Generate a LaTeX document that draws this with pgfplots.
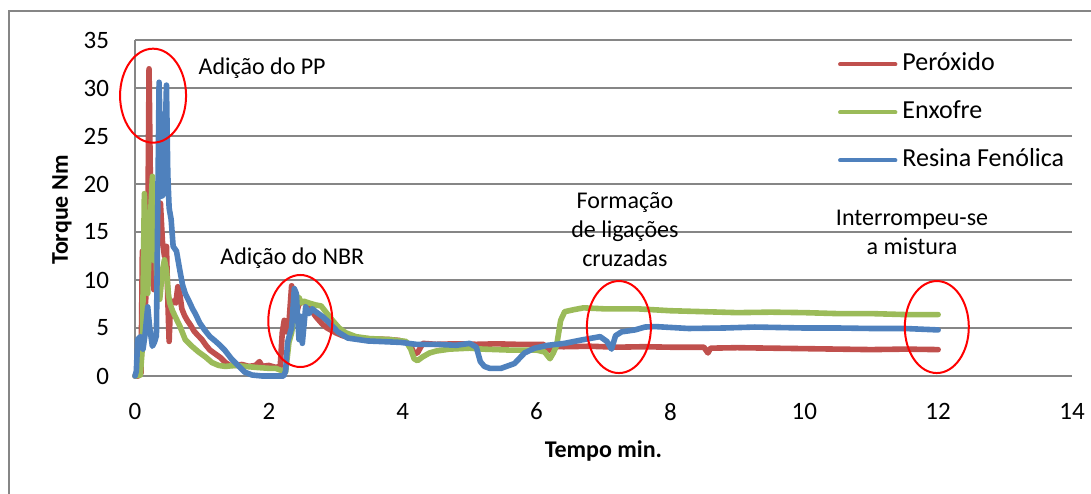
\documentclass[border=0pt]{standalone}
\usepackage{fontspec}
\setmainfont{Carlito}
\usepackage{pgfplots}
\pgfplotsset{compat=1.18}
\definecolor{cred}{HTML}{C0504D}
\definecolor{cgreen}{HTML}{9BBB59}
\definecolor{cblue}{HTML}{4F81BD}
\definecolor{cgrid}{HTML}{868686}
\begin{document}
\begin{tikzpicture}[x=1pt,y=1pt]
\path[use as bounding box] (0,0) rectangle (545.5,246.5);
\draw[cgrid, line width=0.75pt] (4.5,-2) -- (4.5,241) -- (548,241);
\begin{axis}[
 at={(67.5pt,58.5pt)}, anchor=south west,
 scale only axis, width=468.5pt, height=168pt,
 xmin=0, xmax=14, ymin=0, ymax=35,
 xtick={0,2,...,14}, ytick={0,5,...,35},
 axis x line=bottom, axis y line=left,
 axis line style={-, cgrid, line width=0.75pt},
 ymajorgrids, grid style={cgrid, line width=0.75pt},
 major tick length=0pt,
 clip=false,
 tick label style={font=\fontsize{12.5}{14}\selectfont},
 /pgf/number format/assume math mode=true,
 yticklabel style={anchor=east, xshift=-9.5pt}, xticklabel style={yshift=-10pt},
 xlabel={Tempo min.}, ylabel={Torque Nm},
 label style={font=\bfseries\fontsize{12}{14}\selectfont},
 xlabel style={at={(axis description cs:0.5,-0.223)}, anchor=center},
 ylabel style={at={(axis description cs:-0.078,0.494)}, anchor=center},
 legend style={at={(axis description cs:0.7503,0.962)}, anchor=north west,
   draw=none, fill=none, inner sep=0pt, outer sep=0pt,
   row sep=12.5pt, column sep=2.5pt,
   font=\fontsize{13}{15}\selectfont,
   nodes={inner sep=0pt, text height=9pt, text depth=2.5pt}},
 legend cell align=left,
 legend image code/.code={\draw[#1, line width=2.2pt, line cap=round] (0pt,0pt) -- (27.5pt,0pt);},
 every axis plot/.append style={line width=2.8pt, line join=round, line cap=round},
]
\addplot[cred] coordinates {
(0,0) (0.05,0) (0.09,0.3) (0.11,13) (0.13,5) (0.16,8) (0.19,14) (0.21,32) (0.23,20) (0.25,13) (0.28,9) (0.31,12) (0.35,15) (0.38,18) (0.41,14) (0.44,12.5) (0.47,13.5) (0.49,8) (0.51,3.6) (0.53,7.5) (0.57,7.8) (0.61,7.6) (0.64,9.3) (0.67,8.5) (0.70,7.0) (0.74,6.3) (0.78,5.8) (0.83,5.3) (0.88,4.7) (0.93,4.3) (1.0,3.8) (1.06,3.2) (1.12,2.7) (1.2,2.3) (1.28,1.9) (1.35,1.4) (1.42,1.1) (1.5,1.1) (1.6,1.2) (1.7,1.0) (1.8,1.1) (1.86,1.5) (1.9,1.0) (2.0,1.1) (2.1,0.9) (2.17,1.0) (2.2,4.5) (2.23,5.8) (2.26,4.6) (2.3,5.5) (2.34,9.4) (2.37,8.5) (2.41,6.5) (2.45,7.5) (2.5,7.7) (2.56,7.6) (2.62,7.0) (2.7,6.2) (2.8,5.4) (2.87,5.0) (3.0,4.5) (3.1,4.2) (3.2,4.0) (3.4,3.9) (3.6,3.85) (3.8,3.8) (3.95,3.7) (4.05,3.5) (4.12,3.1) (4.17,2.4) (4.22,2.4) (4.3,3.4) (4.5,3.3) (4.8,3.35) (5.1,3.3) (5.4,3.35) (5.7,3.3) (6.0,3.3) (6.1,3.3) (6.15,2.9) (6.19,2.7) (6.24,3.1) (6.4,3.05) (6.8,3.1) (7.2,3.0) (7.6,3.05) (8.0,3.0) (8.5,3.0) (8.56,2.4) (8.6,2.9) (9,2.95) (9.5,2.9) (10,2.85) (10.5,2.8) (11,2.75) (11.5,2.8) (12,2.75)
};
\addlegendentry{Peróxido}
\addplot[cgreen] coordinates {
(0,0) (0.08,0.1) (0.11,3) (0.14,19) (0.17,12) (0.19,8.6) (0.22,15) (0.26,20.8) (0.29,12) (0.31,14) (0.33,9) (0.37,8) (0.41,11) (0.44,12.1) (0.47,11) (0.5,8.5) (0.52,7.6) (0.56,6.8) (0.6,6.2) (0.67,5.2) (0.75,3.8) (0.85,3.1) (0.95,2.5) (1.05,2.0) (1.15,1.4) (1.25,1.1) (1.35,1.0) (1.5,1.1) (1.65,1.0) (1.8,0.9) (2.0,0.8) (2.1,0.8) (2.22,0.5) (2.25,0.4) (2.3,3.5) (2.34,4.5) (2.38,6.5) (2.42,7.8) (2.45,8.2) (2.48,7.6) (2.52,7.8) (2.6,7.6) (2.7,7.4) (2.78,7.3) (2.87,6.5) (2.95,5.8) (3.05,5.0) (3.15,4.5) (3.3,4.1) (3.5,3.9) (3.8,3.8) (4.05,3.6) (4.12,2.8) (4.17,1.8) (4.22,1.6) (4.3,2.0) (4.4,2.4) (4.5,2.6) (4.7,2.8) (5.0,2.9) (5.2,2.8) (5.6,2.7) (6.0,2.7) (6.12,2.5) (6.2,1.8) (6.25,2.4) (6.3,3.2) (6.36,5.8) (6.42,6.7) (6.55,6.9) (6.7,7.1) (7.0,7.0) (7.5,7.0) (8.0,6.8) (8.5,6.7) (9,6.6) (9.5,6.65) (10,6.6) (10.5,6.5) (11,6.5) (11.5,6.4) (12,6.4)
};
\addlegendentry{Enxofre}
\addplot[cblue] coordinates {
(0,0) (0.02,0.5) (0.04,3.8) (0.08,4.1) (0.12,2.8) (0.15,4.3) (0.19,7.2) (0.22,5.0) (0.26,3.1) (0.29,3.5) (0.32,4.2) (0.36,30.6) (0.38,24) (0.4,18.7) (0.43,19) (0.47,30.3) (0.49,21) (0.51,17.5) (0.54,16.3) (0.57,13.5) (0.62,13.0) (0.67,11.0) (0.71,9.5) (0.75,8.6) (0.8,7.9) (0.86,7.0) (0.9,6.5) (0.97,5.5) (1.04,4.8) (1.12,4.1) (1.19,3.7) (1.27,3.2) (1.34,2.7) (1.44,1.8) (1.54,1.1) (1.64,0.4) (1.75,0.1) (1.9,0) (2.1,0) (2.22,0) (2.25,0.5) (2.28,3.5) (2.31,4.3) (2.34,5.0) (2.38,9.1) (2.41,8.6) (2.45,3.8) (2.48,6.2) (2.5,3.4) (2.55,7.2) (2.6,6.5) (2.65,7.0) (2.7,6.7) (2.8,6.2) (2.88,5.7) (3.03,4.6) (3.18,3.95) (3.48,3.65) (3.97,3.5) (4.2,3.3) (4.5,3.3) (4.8,3.2) (5.0,3.4) (5.1,3.0) (5.16,1.5) (5.22,1.0) (5.3,0.8) (5.47,0.8) (5.67,1.3) (5.82,2.4) (5.97,2.9) (6.17,3.2) (6.42,3.4) (6.67,3.75) (6.95,4.1) (7.05,3.6) (7.12,2.8) (7.18,4.2) (7.27,4.6) (7.47,4.8) (7.62,5.1) (7.77,5.15) (8.27,4.95) (8.8,5.0) (9.26,5.1) (10,5.0) (10.5,5.0) (11,4.95) (11.5,4.95) (12,4.8)
};
\addlegendentry{Resina Fenólica}
\node[font=\fontsize{12}{14.5}\selectfont, align=center] at (axis cs:1.90,32.1) {Adição do PP};
\node[font=\fontsize{12}{14.5}\selectfont, align=center] at (axis cs:2.35,12.3) {Adição do NBR};
\node[font=\fontsize{12}{14.5}\selectfont, align=center] at (axis cs:7.32,15.3) {Formação\\de ligações\\cruzadas};
\node[font=\fontsize{12}{14.5}\selectfont, align=center] at (axis cs:11.61,15.0) {Interrompeu-se\\a mistura};
\draw[red, line width=1pt] (axis cs:0.27,29.2) ellipse [x radius=16.5pt, y radius=23.5pt];
\draw[red, line width=1pt] (axis cs:2.47,5.73) ellipse [x radius=16pt, y radius=23pt];
\draw[red, line width=1pt] (axis cs:7.23,5.1) ellipse [x radius=16pt, y radius=23pt];
\draw[red, line width=1pt] (axis cs:11.98,5.1) ellipse [x radius=16pt, y radius=23pt];
\end{axis}
\end{tikzpicture}
\end{document}
